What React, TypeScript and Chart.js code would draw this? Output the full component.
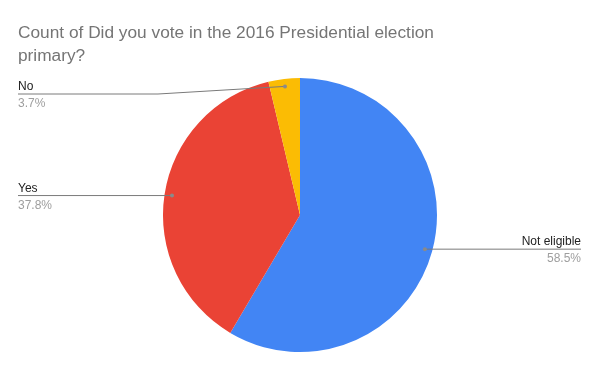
import React, { useEffect, useRef } from "react";
import { Chart, registerables } from "chart.js";

Chart.register(...registerables);

const titleLines = ["Count of Did you vote in the 2016 Presidential election", "primary?"];
const categories = ["Not eligible", "Yes", "No"];
const counts = [58.5, 37.8, 3.7];
const colors = ["#4285F4", "#EA4335", "#FBBC04"];

const FONT = "Arial, 'Liberation Sans', sans-serif";

const labelPlugin = {
  id: "gLabels",
  afterDraw(chart: any) {
    const ctx = chart.ctx;
    const W = chart.width;
    ctx.save();
    // title
    ctx.fillStyle = "#757575";
    ctx.font = `17.3px ${FONT}`;
    ctx.textAlign = "left";
    ctx.textBaseline = "alphabetic";
    titleLines.forEach((t, i) => ctx.fillText(t, 18, 38 + i * 23));

    const meta = chart.getDatasetMeta(0);
    const data = chart.data.datasets[0].data as number[];
    const total = data.reduce((a, b) => a + b, 0);
    const leftX = 18;
    const rightX = W - 19;
    meta.data.forEach((arc: any, i: number) => {
      const { x, y, startAngle, endAngle, outerRadius } = arc.getProps(
        ["x", "y", "startAngle", "endAngle", "outerRadius"],
        true
      );
      const mid = (startAngle + endAngle) / 2;
      const r = outerRadius * 0.945;
      const dx = x + Math.cos(mid) * r;
      const dy = y + Math.sin(mid) * r;
      const isRight = Math.cos(mid) >= 0;
      const lineY = Math.max(dy, 94);
      ctx.strokeStyle = "#7a7a7a";
      ctx.lineWidth = 1;
      ctx.beginPath();
      if (isRight) {
        ctx.moveTo(dx, dy);
        ctx.lineTo(rightX, lineY);
      } else {
        const elbow = Math.min(x - outerRadius - 5, dx);
        ctx.moveTo(leftX, lineY);
        ctx.lineTo(elbow, lineY);
        ctx.lineTo(dx, dy);
      }
      ctx.stroke();
      ctx.fillStyle = "#8a8a8a";
      ctx.beginPath();
      ctx.arc(dx, dy, 2, 0, Math.PI * 2);
      ctx.fill();

      const pct = ((data[i] / total) * 100).toFixed(1) + "%";
      ctx.textAlign = isRight ? "right" : "left";
      const tx = isRight ? rightX : leftX;
      ctx.font = `12px ${FONT}`;
      ctx.fillStyle = "#222222";
      ctx.fillText(String(chart.data.labels[i]), tx, lineY - 4);
      ctx.fillStyle = "#9e9e9e";
      ctx.fillText(pct, tx, lineY + 13);
    });
    ctx.restore();
  },
};

export default function App() {
  const ref = useRef<HTMLCanvasElement>(null);
  useEffect(() => {
    document.body.style.margin = "0";
    const chart = new Chart(ref.current!, {
      type: "pie",
      data: {
        labels: categories,
        datasets: [
          {
            data: counts,
            backgroundColor: colors,
            borderWidth: 0,
          },
        ],
      },
      options: {
        animation: false,
        responsive: false,
        events: [],
        layout: { padding: { top: 78, bottom: 19, left: 163, right: 163 } },
        plugins: {
          legend: { display: false },
          title: { display: false },
          tooltip: { enabled: false },
        },
      },
      plugins: [labelPlugin],
    });
    return () => chart.destroy();
  }, []);
  return (
    <div style={{ width: 600, height: 371, background: "#fff" }}>
      <canvas ref={ref} width={600} height={371} style={{ display: "block" }} />
    </div>
  );
}
